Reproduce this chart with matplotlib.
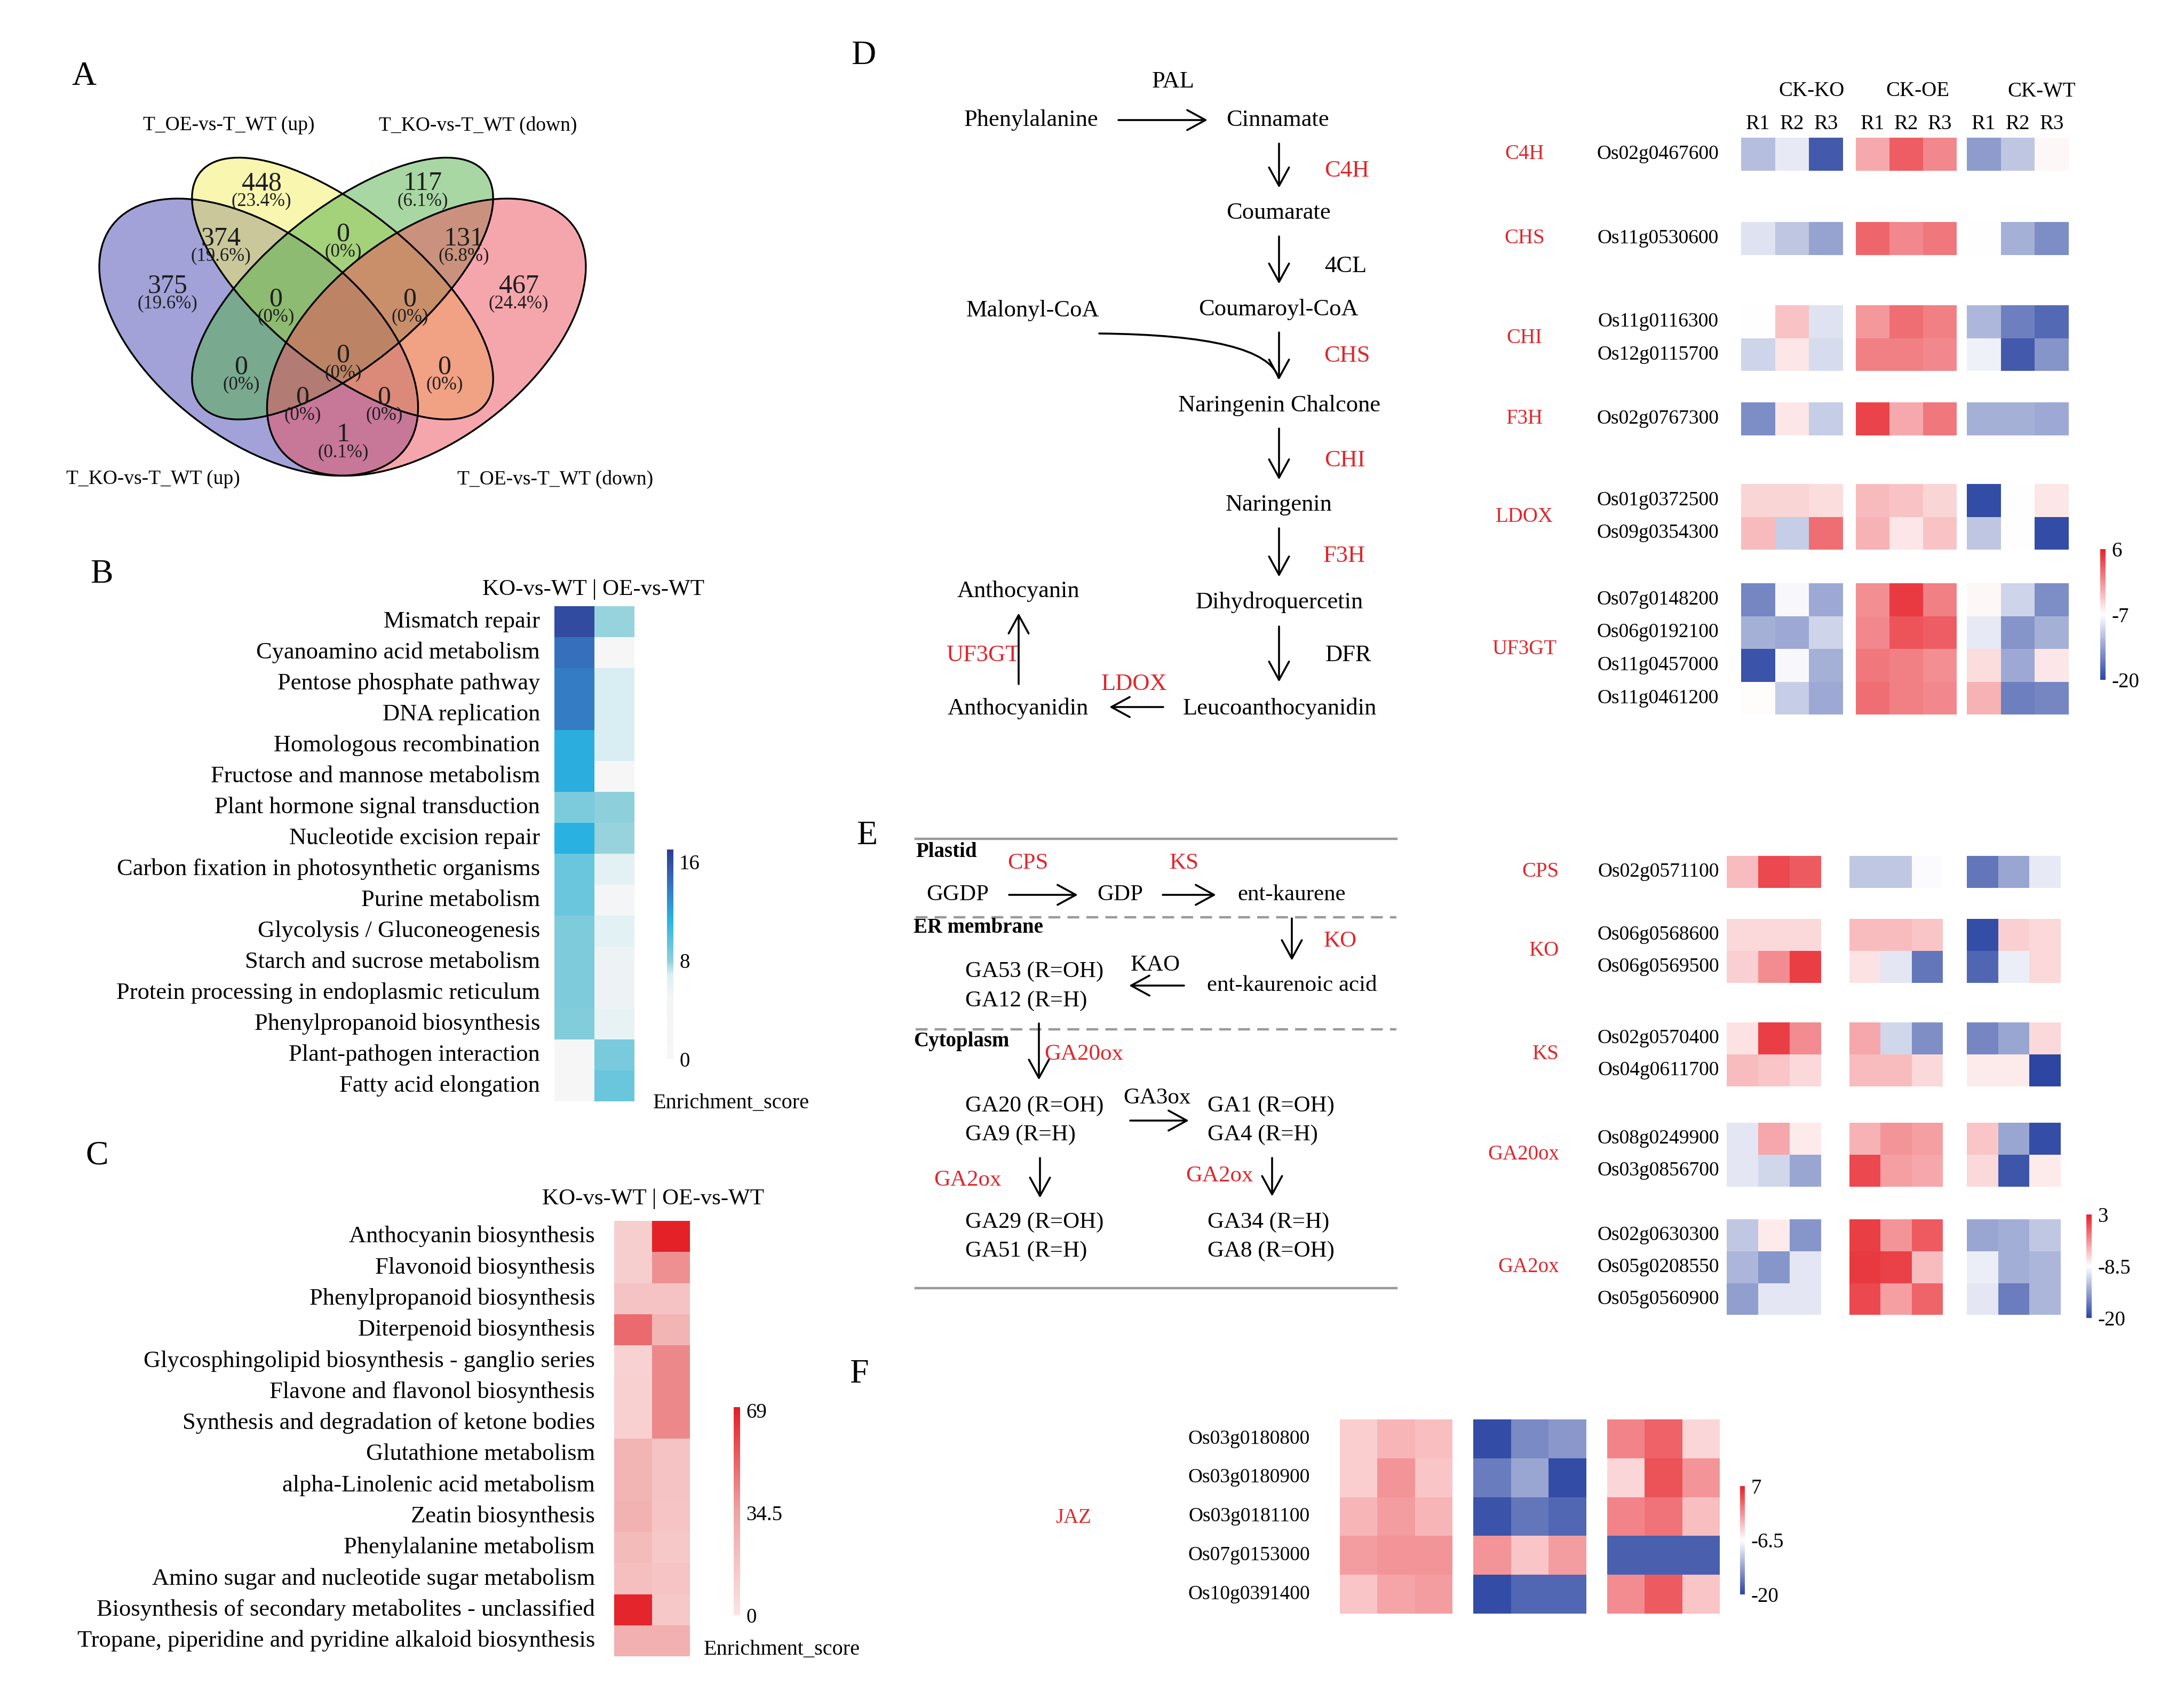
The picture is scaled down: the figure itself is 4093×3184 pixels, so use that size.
import numpy as np
import matplotlib
matplotlib.use('Agg')
import matplotlib as mpl
import matplotlib.pyplot as plt
from matplotlib.patches import Ellipse, FancyArrowPatch
from matplotlib.path import Path
from matplotlib.colors import LinearSegmentedColormap, Normalize

plt.rcParams['font.family'] = ['Liberation Serif', 'DejaVu Serif']

# ---------------------------------------------------------------- data
venn_sets = ['T_KO-vs-T_WT (up)', 'T_OE-vs-T_WT (up)', 'T_KO-vs-T_WT (down)', 'T_OE-vs-T_WT (down)']
venn_counts = [448, 117, 374, 0, 131, 375, 0, 0, 467, 0, 0, 0, 0, 0, 1]

b_terms = ['Mismatch repair', 'Cyanoamino acid metabolism', 'Pentose phosphate pathway', 'DNA replication',
           'Homologous recombination', 'Fructose and mannose metabolism', 'Plant hormone signal transduction',
           'Nucleotide excision repair', 'Carbon fixation in photosynthetic organisms', 'Purine metabolism',
           'Glycolysis / Gluconeogenesis', 'Starch and sucrose metabolism',
           'Protein processing in endoplasmic reticulum', 'Phenylpropanoid biosynthesis',
           'Plant-pathogen interaction', 'Fatty acid elongation']
b_ko = [16.2, 14.3, 13.8, 13.8, 11.6, 11.6, 8.6, 11.3, 9.2, 9.2, 8.5, 8.5, 8.5, 8.4, 0.4, 0.4]
b_oe = [7.9, 0.4, 6.9, 6.9, 6.9, 0.6, 8.1, 7.9, 6.2, 2.0, 6.4, 5.5, 5.5, 6.0, 8.7, 9.2]

c_terms = ['Anthocyanin biosynthesis', 'Flavonoid biosynthesis', 'Phenylpropanoid biosynthesis',
           'Diterpenoid biosynthesis', 'Glycosphingolipid biosynthesis - ganglio series',
           'Flavone and flavonol biosynthesis', 'Synthesis and degradation of ketone bodies',
           'Glutathione metabolism', 'alpha-Linolenic acid metabolism', 'Zeatin biosynthesis',
           'Phenylalanine metabolism', 'Amino sugar and nucleotide sugar metabolism',
           'Biosynthesis of secondary metabolites - unclassified',
           'Tropane, piperidine and pyridine alkaloid biosynthesis']
c_ko = [12, 12, 18, 50, 10, 11, 11, 26, 26, 27, 22, 20, 68, 28]
c_oe = [69, 40, 18, 26, 42, 42, 42, 18, 18, 17, 15, 17, 15, 28]

samples = ['CK-KO', 'CK-OE', 'CK-WT']
reps = ['R1', 'R2', 'R3']

d_enzymes = ['C4H', 'CHS', 'CHI', 'F3H', 'LDOX', 'UF3GT']
d_genes = [['Os02g0467600'], ['Os11g0530600'], ['Os11g0116300', 'Os12g0115700'], ['Os02g0767300'],
           ['Os01g0372500', 'Os09g0354300'],
           ['Os07g0148200', 'Os06g0192100', 'Os11g0457000', 'Os11g0461200']]
d_values = [
    [[-11.5, -8.5, -18.5, -2.0, 2.5, 0.0, -14.0, -11.0, -6.5]],
    [[-9.0, -11.0, -13.5, 2.0, 0.0, 1.0, -7.0, -12.5, -15.0]],
    [[-7.0, -3.5, -9.0, -1.0, 1.5, 0.5, -12.0, -16.0, -17.5],
     [-10.0, -5.5, -9.5, 0.5, 0.5, 0.0, -8.0, -18.5, -14.5]],
    [[-15.0, -5.5, -10.5, 4.0, -2.0, 1.0, -12.5, -12.5, -13.0]],
    [[-4.5, -4.5, -5.0, -3.0, -3.5, -4.5, -19.5, -7.0, -5.5],
     [-3.0, -10.5, 1.5, -2.5, -5.5, -3.5, -11.0, -7.0, -19.5]],
    [[-15.5, -7.5, -13.0, -0.5, 4.5, 0.5, -6.5, -10.0, -15.0],
     [-12.5, -13.0, -10.0, 0.0, 3.0, 2.5, -8.5, -14.5, -12.5],
     [-19.0, -7.5, -12.5, 1.0, 0.5, -0.5, -5.0, -13.0, -5.5],
     [-6.8, -10.5, -13.0, 1.5, 0.5, 0.0, -2.5, -16.0, -15.5]],
]
d_range = (-20, 6)
d_ticks = [6, -7, -20]

e_enzymes = ['CPS', 'KO', 'KS', 'GA20ox', 'GA2ox']
e_genes = [['Os02g0571100'], ['Os06g0568600', 'Os06g0569500'], ['Os02g0570400', 'Os04g0611700'],
           ['Os08g0249900', 'Os03g0856700'], ['Os02g0630300', 'Os05g0208550', 'Os05g0560900']]
e_values = [
    [[-5.0, 1.0, 0.0, -12.0, -12.0, -8.7, -17.0, -14.0, -9.8]],
    [[-6.5, -6.5, -6.5, -5.0, -5.0, -5.5, -19.5, -6.0, -6.5],
     [-6.0, -2.5, 1.5, -7.0, -10.0, -17.0, -18.0, -9.5, -6.5]],
    [[-7.0, 1.5, -2.5, -4.0, -11.0, -15.5, -16.0, -14.0, -6.5],
     [-5.0, -5.5, -6.5, -5.0, -5.0, -6.5, -7.5, -7.5, -20.0]],
    [[-10.0, -4.0, -7.5, -4.5, -3.0, -3.5, -5.5, -14.0, -19.5],
     [-10.0, -11.0, -14.0, 1.0, -3.5, -4.0, -6.5, -19.0, -7.5]],
    [[-12.0, -7.5, -15.0, 1.5, -3.0, 0.0, -14.0, -13.5, -12.0],
     [-13.0, -15.0, -10.0, 1.8, 1.3, -5.0, -9.5, -13.5, -13.0],
     [-14.5, -10.0, -10.0, 1.0, -3.5, -0.5, -10.0, -16.5, -13.0]],
]
e_range = (-20, 3)
e_ticks = [3, -8.5, -20]

f_enzyme = 'JAZ'
f_genes = ['Os03g0180800', 'Os03g0180900', 'Os03g0181100', 'Os07g0153000', 'Os10g0391400']
f_values = [[-3.5, -2.0, -2.5, -19.5, -15.0, -14.0, 1.0, 3.0, -4.0],
            [-3.5, 0.0, -3.0, -16.0, -13.0, -19.5, -4.0, 4.0, 0.0],
            [-2.0, -0.5, -2.0, -19.0, -16.5, -17.5, 1.0, 2.0, -2.5],
            [-0.5, 0.0, 0.0, 0.0, -3.0, -0.5, -18.0, -18.0, -18.0],
            [-3.0, -1.0, -0.5, -19.5, -17.5, -17.5, 0.5, 3.5, -3.0]]
f_range = (-20, 7)
f_ticks = [7, -6.5, -20]

# ---------------------------------------------------------------- setup
W, H = 4093, 3184
fig = plt.figure(figsize=(W / 100, H / 100), dpi=100)
fig.patch.set_facecolor('white')
ax0 = fig.add_axes([0, 0, 1, 1])
ax0.set_xlim(0, W)
ax0.set_ylim(H, 0)
ax0.axis('off')
ax0.patch.set_visible(False)
ax0.set_zorder(5)

RED = '#E0262B'


def ax_px(x0, y0, x1, y1):
    return fig.add_axes([x0 / W, 1 - y1 / H, (x1 - x0) / W, (y1 - y0) / H])


def T(x, y, s, size=32, ha='center', va='center', **kw):
    ax0.text(x, y, s, fontsize=size, ha=ha, va=va, **kw)


def arrow(x0, y0, x1, y1):
    ax0.annotate('', xy=(x1, y1), xytext=(x0, y0),
                 arrowprops=dict(arrowstyle='->,head_length=0.55,head_width=0.3', lw=2.6, color='black',
                                 shrinkA=0, shrinkB=0, mutation_scale=45))


def heat(values, xgroups, top, rh, cmap, norm):
    v = np.asarray(values, dtype=float)
    nr = v.shape[0]
    ncol = v.shape[1] // len(xgroups)
    Y = top + rh * np.arange(nr + 1)
    for g, (x0, x1) in enumerate(xgroups):
        X = np.linspace(x0, x1, ncol + 1)
        ax0.pcolormesh(X, Y, v[:, g * ncol:(g + 1) * ncol], cmap=cmap, norm=norm,
                       shading='flat', antialiased=False, edgecolors='none')


def cbar(x0, y0, x1, y1, cmap, norm, ticks, labels, size=28):
    cax = ax_px(x0, y0, x1, y1)
    cb = mpl.colorbar.ColorbarBase(cax, cmap=cmap, norm=norm, orientation='vertical')
    cb.outline.set_visible(False)
    cb.set_ticks(ticks)
    cb.set_ticklabels(labels)
    cax.tick_params(length=0, labelsize=size, pad=8)
    for t in cax.get_yticklabels():
        t.set_fontfamily(['Liberation Serif', 'DejaVu Serif'])
    return cb


# ---------------------------------------------------------------- panel letters
for lab, x, y in [('A', 157, 144), ('B', 190, 1077), ('C', 182, 2166), ('D', 1618, 105),
                  ('E', 1625, 1567), ('F', 1610, 2576)]:
    T(x, y, lab, size=46)

# ---------------------------------------------------------------- A: Venn
axv = ax_px(118, 149, 1166, 1060)
axv.set_zorder(1)
axv.set_xlim(0, 1)
axv.set_ylim(0, 1)
axv.axis('off')
axv.patch.set_alpha(0)
ell = [((0.35, 0.47), 0.35, 0.20, 135), ((0.50, 0.57), 0.35, 0.15, 135),
       ((0.50, 0.57), 0.35, 0.15, 45), ((0.65, 0.47), 0.35, 0.20, 45)]
venn_colors = ['#4747B3', '#F3EE60', '#52B048', '#EC4E5A']
for (c, a, b, ang), col in zip(ell, venn_colors):
    axv.add_patch(Ellipse(c, 2 * a, 2 * b, angle=ang, facecolor=col, alpha=0.5, edgecolor='none'))
for (c, a, b, ang) in ell:
    axv.add_patch(Ellipse(c, 2 * a, 2 * b, angle=ang, facecolor='none', edgecolor='black', lw=2.4))

total = sum(venn_counts)
venn_pos = [(490, 344), (792, 344), (414, 447), (643, 439), (869, 447), (314, 536), (517, 561), (768, 561),
            (972, 536), (452, 688), (643, 666), (833, 688), (567, 745), (720, 745), (643, 815)]
for cnt, (x, y) in zip(venn_counts, venn_pos):
    pct = '(0%)' if cnt == 0 else '(%.1f%%)' % (100.0 * cnt / total)
    T(x, y, str(cnt), size=36, color='#1E1E1E')
    T(x, y + 33, pct, size=25, color='#1E1E1E')
venn_lab_pos = [(287, 898), (429, 235), (896, 235), (1041, 898)]
for s, (x, y) in zip(venn_sets, venn_lab_pos):
    T(x, y, s, size=27)

# ---------------------------------------------------------------- B
cmap_b = LinearSegmentedColormap.from_list('b', [(0, '#F6F6F6'), (0.30, '#F2F4F5'), (0.40, '#DDF0F3'),
                                                 (0.47, '#8FD0DA'), (0.66, '#29B5E2'), (0.84, '#3671BD'),
                                                 (1.0, '#2D3B92')])
norm_b = Normalize(0, 17)
b_top, b_rh = 1136, 58.0
heat(np.column_stack([b_ko, b_oe]), [(1039, 1189)], b_top, b_rh, cmap_b, norm_b)
for i, t in enumerate(b_terms):
    T(1012, b_top + b_rh * (i + 0.5), t, size=32, ha='right')
T(1112, 1105, 'KO-vs-WT | OE-vs-WT', size=31)
cbar(1250, 1592, 1262, 1985, cmap_b, norm_b, [0, 8, 16], ['0', '8', '16'])
T(1370, 2067, 'Enrichment_score', size=29)

# ---------------------------------------------------------------- C
cmap_c = LinearSegmentedColormap.from_list('c', [(0, '#FBE4E4'), (0.5, '#F0A3A3'), (1.0, '#E31E24')])
norm_c = Normalize(0, 70)
c_top, c_rh = 2288, 58.3
heat(np.column_stack([c_ko, c_oe]), [(1151, 1293)], c_top, c_rh, cmap_c, norm_c)
for i, t in enumerate(c_terms):
    T(1115, c_top + c_rh * (i + 0.5), t, size=32, ha='right')
T(1224, 2247, 'KO-vs-WT | OE-vs-WT', size=31)
cbar(1375, 2637, 1387, 3027, cmap_c, norm_c, [0, 34.5, 69], ['0', '34.5', '69'])
T(1465, 3092, 'Enrichment_score', size=29)

# ---------------------------------------------------------------- D pathway
for s, x, y in [('PAL', 2199, 153), ('Phenylalanine', 1932, 225), ('Cinnamate', 2394, 225),
                ('Coumarate', 2396, 399), ('Malonyl-CoA', 1936, 582), ('Coumaroyl-CoA', 2396, 580),
                ('Naringenin Chalcone', 2397, 760), ('Naringenin', 2397, 946),
                ('Dihydroquercetin', 2398, 1129), ('Anthocyanin', 1908, 1108),
                ('Leucoanthocyanidin', 2398, 1328), ('Anthocyanidin', 1908, 1328)]:
    T(x, y, s, size=32)
for s, x, y in [('4CL', 2522, 499), ('DFR', 2527, 1228)]:
    T(x, y, s, size=32)
for s, x, y in [('C4H', 2524, 320), ('CHS', 2524, 667), ('CHI', 2520, 863), ('F3H', 2519, 1042),
                ('LDOX', 2126, 1282), ('UF3GT', 1842, 1228)]:
    T(x, y, s, size=32, color=RED)
for a in [(2096, 225, 2263, 225), (2397, 269, 2397, 352), (2397, 443, 2397, 532), (2397, 623, 2397, 712),
          (2397, 803, 2397, 899), (2397, 990, 2397, 1081), (2397, 1174, 2397, 1278),
          (2180, 1325, 2079, 1325), (1909, 1282, 1909, 1149)]:
    arrow(*a)
curve = Path([(2060, 625), (2372, 628), (2396, 708)], [Path.MOVETO, Path.CURVE3, Path.CURVE3])
ax0.add_patch(FancyArrowPatch(path=curve, arrowstyle='-', lw=2.6, color='black'))

# ---------------------------------------------------------------- D heatmap
cmap_div = LinearSegmentedColormap.from_list('div', ['#2C46A2', '#FFFFFF', '#E7222A'])
norm_d = Normalize(*d_range)
d_cols = [(3263, 3454), (3478, 3667), (3686, 3877)]
d_tops = [258, 416, 572, 754, 907, 1093]
d_rh = 61.5
for s, x in zip(samples, [3395, 3594, 3826]):
    T(x, 171, s, size=28)
for g, (x0, x1) in enumerate(d_cols):
    for k, r in enumerate(reps):
        T(x0 + (x1 - x0) * (k + 0.5) / 3, 233, r, size=28)
for enz, genes, vals, top in zip(d_enzymes, d_genes, d_values, d_tops):
    heat(vals, d_cols, top, d_rh, cmap_div, norm_d)
    for i, gname in enumerate(genes):
        T(3221, top + d_rh * (i + 0.5), gname, size=27, ha='right')
    T(2857, top + d_rh * len(genes) / 2, enz, size=28, color=RED)
cbar(3936, 1029, 3946, 1274, cmap_div, norm_d, d_ticks, ['6', '-7', '-20'])

# ---------------------------------------------------------------- E pathway
for yy, ls in [(1572, '-'), (1719, (0, (5, 3))), (1929, (0, (5, 3))), (2414, '-')]:
    ax0.plot([1716, 2617], [yy, yy], color='#9A9A9A', lw=3.2, ls=ls)
for s, x, y in [('Plastid', 1716, 1597), ('ER membrane', 1712, 1739), ('Cytoplasm', 1712, 1951)]:
    T(x, y, s, size=28, ha='left', fontweight='bold')
for s, x, y in [('CPS', 1926, 1618), ('KS', 2219, 1618), ('KO', 2512, 1764), ('GA20ox', 2031, 1976),
                ('GA2ox', 1814, 2212), ('GA2ox', 2286, 2204)]:
    T(x, y, s, size=31, color=RED)
for s, x, y in [('GGDP', 1795, 1677), ('GDP', 2099, 1677), ('ent-kaurene', 2421, 1677), ('KAO', 2165, 1809),
                ('ent-kaurenoic acid', 2421, 1847), ('GA3ox', 2168, 2058)]:
    T(x, y, s, size=31)
for s, x, y in [('GA53 (R=OH)', 1809, 1821), ('GA12 (R=H)', 1809, 1876), ('GA20 (R=OH)', 1809, 2073),
                ('GA9 (R=H)', 1809, 2127), ('GA29 (R=OH)', 1809, 2291), ('GA51 (R=H)', 1809, 2345),
                ('GA1 (R=OH)', 2263, 2073), ('GA4 (R=H)', 2263, 2127), ('GA34 (R=H)', 2263, 2291),
                ('GA8 (R=OH)', 2263, 2345)]:
    T(x, y, s, size=31, ha='left')
for a in [(1891, 1677, 2020, 1677), (2179, 1677, 2279, 1677), (2421, 1721, 2421, 1800),
          (2219, 1847, 2116, 1847), (1947, 1918, 1947, 2024), (2118, 2100, 2228, 2100),
          (1949, 2170, 1949, 2245), (2384, 2170, 2384, 2242)]:
    arrow(*a)

# ---------------------------------------------------------------- E heatmap
norm_e = Normalize(*e_range)
e_cols = [(3236, 3413), (3466, 3641), (3686, 3862)]
e_tops = [1604, 1722, 1916, 2104, 2285]
e_rh = 59.8
for enz, genes, vals, top in zip(e_enzymes, e_genes, e_values, e_tops):
    heat(vals, e_cols, top, e_rh, cmap_div, norm_e)
    for i, gname in enumerate(genes):
        T(3222, top + e_rh * (i + 0.5), gname, size=27, ha='right')
    T(2922, top + e_rh * len(genes) / 2, enz, size=28, color=RED, ha='right')
cbar(3910, 2276, 3920, 2470, cmap_div, norm_e, e_ticks, ['3', '-8.5', '-20'])

# ---------------------------------------------------------------- F heatmap
norm_f = Normalize(*f_range)
f_cols = [(2511, 2722), (2761, 2973), (3012, 3223)]
f_top, f_rh = 2660, 72.8
heat(f_values, f_cols, f_top, f_rh, cmap_div, norm_f)
for i, gname in enumerate(f_genes):
    T(2455, f_top + f_rh * (i + 0.5), gname, size=27, ha='right')
T(2012, 2845, f_enzyme, size=28, color=RED)
cbar(3261, 2785, 3270, 2988, cmap_div, norm_f, f_ticks, ['7', '-6.5', '-20'])

fig.savefig('out.png', dpi=100, facecolor='white')
